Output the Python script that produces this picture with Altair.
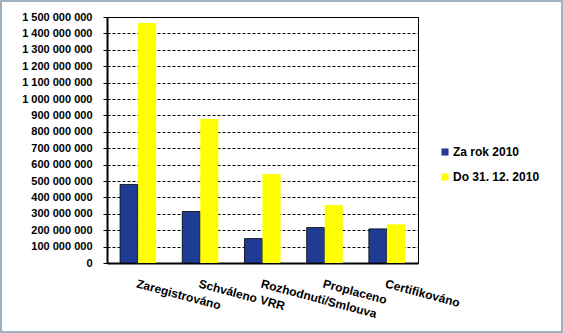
import altair as alt
import pandas as pd

categories = ["Zaregistrováno", "Schváleno VRR", "Rozhodnuti/Smlouva", "Proplaceno", "Certifikováno"]
series_names = ["Za rok 2010", "Do 31. 12. 2010"]
za_rok_2010 = [479e6, 314e6, 149e6, 216e6, 208e6]
do_31_12_2010 = [1463e6, 878e6, 543e6, 353e6, 236e6]
colors = ["#1F3C95", "#FFFF00"]

rows = []
for i, c in enumerate(categories):
    rows.append({"cat": c, "series": series_names[0], "value": za_rok_2010[i]})
    rows.append({"cat": c, "series": series_names[1], "value": do_31_12_2010[i]})
df = pd.DataFrame(rows)

FONT = "Liberation Sans"

bars = alt.Chart(df).mark_bar(stroke="black").encode(
    x=alt.X("cat:N", sort=categories,
            scale=alt.Scale(paddingInner=0.42, paddingOuter=0.21),
            axis=alt.Axis(title=None, labelAngle=15, labelAlign="left", labelBaseline="top",
                          labelPadding=15, ticks=False, domainColor="black", domainWidth=2,
                          labelFont=FONT, labelFontSize=12, labelFontWeight="bold",
                          labelColor="black", grid=False)),
    xOffset=alt.XOffset("series:N", sort=series_names, scale=alt.Scale(paddingInner=0, paddingOuter=0)),
    y=alt.Y("value:Q", scale=alt.Scale(domain=[0, 1500000000], nice=False),
            axis=alt.Axis(title=None, values=[i * 100000000 for i in range(16)],
                          labelExpr="replace(format(datum.value, ','), regexp(',', 'g'), ' ')",
                          labelFont=FONT, labelFontSize=11, labelFontWeight="bold",
                          labelColor="black", labelPadding=11, tickSize=4, tickColor="black",
                          tickWidth=1, domainColor="black", domainWidth=2,
                          grid=True, gridColor="black", gridDash=[3, 2], gridWidth=1)),
    color=alt.Color("series:N", sort=series_names,
                    scale=alt.Scale(domain=series_names, range=colors),
                    legend=alt.Legend(title=None, orient="none", legendX=332, legendY=129,
                                      symbolType="square", symbolSize=50, symbolStrokeWidth=0,
                                      labelFont=FONT, labelFontSize=12, labelFontWeight="bold",
                                      labelColor="black", rowPadding=13, symbolOffset=0,
                                      labelOffset=2)),
    strokeWidth=alt.condition(alt.datum.series == series_names[0], alt.value(0.8), alt.value(0)),
)

frame = alt.Chart(alt.Data(values=[{}])).mark_rect(fill=None, stroke="#7D98AC", strokeWidth=1.5).encode(
    x=alt.value(-106), x2=alt.value(455), y=alt.value(-16), y2=alt.value(315)
)

chart = alt.layer(bars, frame).properties(
    width=311, height=246,
    padding={"left": 107, "top": 17, "right": 145, "bottom": 70},
    autosize=alt.AutoSizeParams(type="none"),
    background="white",
).configure_view(stroke="black", strokeWidth=1)

chart.save("out.html", embed_options={"renderer": "svg", "actions": False})
